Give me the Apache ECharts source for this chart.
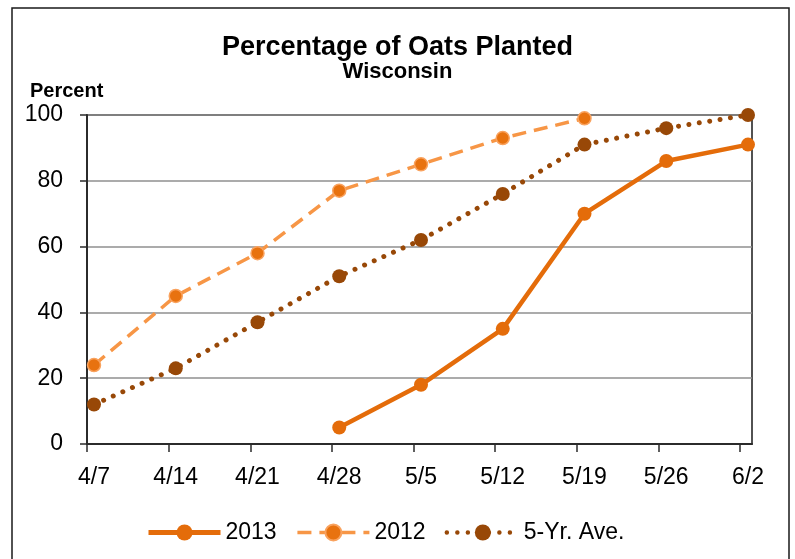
<!DOCTYPE html>
<html>
<head>
<meta charset="utf-8">
<script src="https://cdn.jsdelivr.net/npm/echarts@6/dist/echarts.min.js"></script>
<style>
html,body{margin:0;padding:0;background:#fff;}
#chart{width:795px;height:559px;}
</style>
</head>
<body>
<div id="chart"></div>
<script>
const categories = ['4/7','4/14','4/21','4/28','5/5','5/12','5/19','5/26','6/2'];
const yTicks = [0,20,40,60,80,100];
const seriesNames = ['2013','2012','5-Yr. Ave.'];
const data2013 = [null, null, null, 5, 18, 35, 70, 86, 91];
const data2012 = [24, 45, 58, 77, 85, 93, 99, null, null];
const dataAvg = [12, 23, 37, 51, 62, 76, 91, 96, 100];

const FONT = '"Liberation Sans", Arial, sans-serif';
const chart = echarts.init(document.getElementById('chart'), null, {renderer:'canvas'});

const gridTop = 115, gridBottom = 115;
const option = {
  animation: false,
  backgroundColor: '#fff',
  textStyle: {fontFamily: FONT},
  graphic: [{
    type: 'rect', silent: true, z: -10,
    shape: {x: 12, y: 8, width: 777, height: 600},
    style: {fill: 'none', stroke: '#1a1a1a', lineWidth: 1.5}
  }],
  title: [
    {text: 'Percentage of Oats Planted', left: 'center', top: 34, padding: 0,
     textStyle: {fontFamily: FONT, fontSize: 27, fontWeight: 'bold', color: '#000'}},
    {text: 'Wisconsin', left: 'center', top: 61, padding: 0,
     textStyle: {fontFamily: FONT, fontSize: 22, fontWeight: 'bold', color: '#000'}},
    {text: 'Percent', left: 30, top: 81, padding: 0,
     textStyle: {fontFamily: FONT, fontSize: 20, fontWeight: 'bold', color: '#000'}}
  ],
  legend: {
    data: [
      {name: seriesNames[0], lineStyle: {width: 5}},
      {name: seriesNames[1], lineStyle: {width: 3.5}},
      {name: seriesNames[2], lineStyle: {width: 4.5}}
    ],
    left: 141, top: 516,
    itemWidth: 72, itemHeight: 20, itemGap: 19,
    textStyle: {fontFamily: FONT, fontSize: 23, color: '#000'}
  },
  grid: [
    {left: 87, right: 43, top: gridTop, bottom: gridBottom, show: true, borderColor: '#1a1a1a', borderWidth: 1.5, backgroundColor: 'transparent'},
    {left: 94, right: 47, top: gridTop, bottom: gridBottom},
    {left: 87, right: 55, top: gridTop, bottom: gridBottom}
  ],
  xAxis: [
    {gridIndex: 0, type: 'category', data: categories, boundaryGap: false,
     axisLine: {show: true, lineStyle: {color: '#2b2b2b', width: 2}},
     axisTick: {show: false}, axisLabel: {show: false}, splitLine: {show: false}},
    {gridIndex: 1, type: 'category', data: categories, boundaryGap: false,
     axisLine: {show: false}, axisTick: {show: false},
     axisLabel: {show: true, fontFamily: FONT, fontSize: 23, color: '#000', margin: 22, interval: 0},
     splitLine: {show: false}},
    {gridIndex: 2, type: 'category', data: categories, boundaryGap: false,
     axisLine: {show: false},
     axisTick: {show: true, length: 8, inside: false, interval: 0, lineStyle: {color: '#2b2b2b', width: 1.5}},
     axisLabel: {show: false}, splitLine: {show: false}}
  ],
  yAxis: [
    {gridIndex: 0, type: 'value', min: yTicks[0], max: yTicks[yTicks.length-1], interval: 20,
     axisLine: {show: true, lineStyle: {color: '#2b2b2b', width: 2}},
     axisTick: {show: true, length: 7, lineStyle: {color: '#2b2b2b', width: 1.5}},
     axisLabel: {fontFamily: FONT, fontSize: 23, color: '#000', margin: 24, padding: [7, 0, 0, 0]},
     splitLine: {show: true, lineStyle: {color: '#8f8f8f', width: 1.5}}},
    {gridIndex: 1, type: 'value', min: 0, max: 100, interval: 20, show: false},
    {gridIndex: 2, type: 'value', min: 0, max: 100, interval: 20, show: false}
  ],
  series: [
    {name: seriesNames[0], type: 'line', xAxisIndex: 1, yAxisIndex: 1, data: data2013,
     symbol: 'circle', symbolSize: 14, z: 5,
     lineStyle: {color: '#E46C0A', width: 4.5},
     itemStyle: {color: '#E46C0A'}},
    {name: seriesNames[1], type: 'line', xAxisIndex: 1, yAxisIndex: 1, data: data2012,
     symbol: 'circle', symbolSize: 13, z: 3,
     lineStyle: {color: '#F79646', width: 3.5, type: [14, 8]},
     itemStyle: {color: '#E8720F', borderColor: '#F9A25E', borderWidth: 1.5}},
    {name: seriesNames[2], type: 'line', xAxisIndex: 1, yAxisIndex: 1, data: dataAvg,
     symbol: 'circle', symbolSize: 14, z: 4,
     lineStyle: {color: '#984807', width: 5, type: [0.01, 10.5], cap: 'round'},
     itemStyle: {color: '#984807'}}
  ]
};
chart.setOption(option);
</script>
</body>
</html>
